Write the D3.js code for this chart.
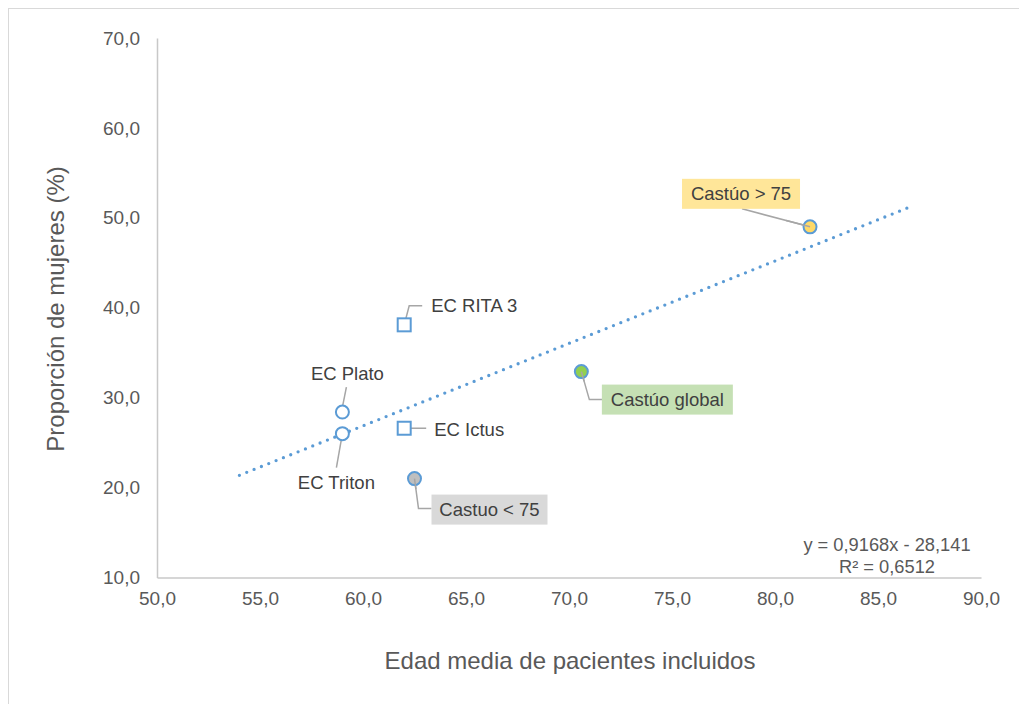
<!DOCTYPE html>
<html>
<head>
<meta charset="utf-8">
<script src="https://cdn.jsdelivr.net/npm/d3@7"></script>
<style>
  html, body { margin: 0; padding: 0; background: #fff; }
  svg { display: block; font-family: "Liberation Sans", Arial, sans-serif; }
</style>
</head>
<body>
<svg id="chart" width="1019" height="704"></svg>
<script>
// Studies: name, mean age of included patients, proportion of women (%)
const names   = ["Castúo > 75", "Castúo global", "Castuo < 75", "EC RITA 3", "EC Ictus", "EC Plato", "EC Triton"];
const ages    = [81.7, 70.6, 62.5, 62.0, 62.0, 59.0, 59.0];
const women   = [49.0, 32.9, 21.0, 38.1, 26.6, 28.4, 26.0];
const shapes  = ["circle", "circle", "circle", "square", "square", "circle", "circle"];
const fills   = ["#FFD966", "#92D050", "#BFBFBF", "#ffffff", "#ffffff", "#ffffff", "#ffffff"];
const labelBg = ["#FFE699", "#C5E0B4", "#D9D9D9", null, null, null, null];

// Linear trend line
const slope = 0.9168, intercept = -28.141, r2 = 0.6512;
const trendFrom = 54.0, trendTo = 86.7;

const xTicks = [50, 55, 60, 65, 70, 75, 80, 85, 90];
const yTicks = [10, 20, 30, 40, 50, 60, 70];

const fmt = v => v.toFixed(1).replace(".", ",");
const fmtN = (v, d) => v.toFixed(d).replace(".", ",");

const svg = d3.select("#chart");
const textColor = "#595959";

// chart frame
svg.append("rect")
  .attr("x", 8.5).attr("y", 8.5).attr("width", 1030).attr("height", 720)
  .attr("fill", "none").attr("stroke", "#D9D9D9").attr("stroke-width", 1);

const x = d3.scaleLinear().domain([50, 90]).range([157, 981]);
const y = d3.scaleLinear().domain([10, 70]).range([577.5, 38]);

// axes
const gx = svg.append("g").attr("transform", `translate(0,${y(10)})`)
  .call(d3.axisBottom(x).tickValues(xTicks).tickFormat(fmt).tickSize(0).tickPadding(14));
gx.select(".domain").attr("stroke", "#C8C8C8").attr("stroke-width", 1.5);
gx.selectAll("text").attr("fill", textColor).attr("font-size", 19)
  .attr("font-family", "Liberation Sans, Arial, sans-serif");

const gy = svg.append("g").attr("transform", `translate(${x(50)},0)`)
  .call(d3.axisLeft(y).tickValues(yTicks).tickFormat(fmt).tickSize(0).tickPadding(17));
gy.select(".domain").attr("stroke", "#C8C8C8").attr("stroke-width", 1.5);
gy.selectAll("text").attr("fill", textColor).attr("font-size", 19)
  .attr("font-family", "Liberation Sans, Arial, sans-serif");

// axis titles
svg.append("text")
  .attr("x", 570).attr("y", 669)
  .attr("text-anchor", "middle").attr("fill", textColor).attr("font-size", 24)
  .text("Edad media de pacientes incluidos");
svg.append("text")
  .attr("transform", `translate(64,309) rotate(-90)`)
  .attr("text-anchor", "middle").attr("fill", textColor).attr("font-size", 24)
  .text("Proporción de mujeres (%)");

// trend line
svg.append("line")
  .attr("x1", x(trendFrom)).attr("y1", y(slope * trendFrom + intercept))
  .attr("x2", x(trendTo)).attr("y2", y(slope * trendTo + intercept))
  .attr("stroke", "#5B9BD5").attr("stroke-width", 3.3)
  .attr("stroke-linecap", "round").attr("stroke-dasharray", "0 7.9");

// trend equation
const eq = svg.append("text").attr("text-anchor", "middle").attr("fill", textColor).attr("font-size", 18.3);
eq.append("tspan").attr("x", 887).attr("y", 551)
  .text(`y = ${fmtN(slope, 4)}x - ${fmtN(-intercept, 3)}`);
eq.append("tspan").attr("x", 887).attr("y", 573)
  .text(`R² = ${fmtN(r2, 4)}`);

// label layout (pixel offsets relative to each point): text centre, leader polyline
const layout = [
  { tx: -69, ty: -33, box: [118, 30], leader: [[0, 0], [-68, -18]] },
  { tx: 86,  ty: 28,  box: [131, 30], leader: [[0, 0], [8, 28], [21, 28]] },
  { tx: 75,  ty: 31,  box: [116, 30], leader: [[0, 0], [4, 30], [17, 30]] },
  { tx: 70,  ty: -19, box: null,      leader: [[0, 0], [5, -19], [18, -19]] },
  { tx: 65,  ty: 1,   box: null,      leader: [[0, 0], [22, 0]] },
  { tx: 5,   ty: -39, box: null,      leader: [[4, -25], [0, -5]] },
  { tx: -6,  ty: 49,  box: null,      leader: [[0, 0], [-6, 34]] }
];

const pts = names.map((n, i) => ({
  name: n, px: x(ages[i]), py: y(women[i]), shape: shapes[i],
  fill: fills[i], bg: labelBg[i], lay: layout[i]
}));

// leader lines
const lineGen = d3.line();
svg.append("g").selectAll("path").data(pts).join("path")
  .attr("d", d => lineGen(d.lay.leader.map(([dx, dy]) => [d.px + dx, d.py + dy])))
  .attr("fill", "none").attr("stroke", "#A6A6A6").attr("stroke-width", 1.5);

// label boxes
svg.append("g").selectAll("rect").data(pts.filter(d => d.lay.box)).join("rect")
  .attr("x", d => d.px + d.lay.tx - d.lay.box[0] / 2)
  .attr("y", d => d.py + d.lay.ty - d.lay.box[1] / 2)
  .attr("width", d => d.lay.box[0]).attr("height", d => d.lay.box[1])
  .attr("fill", d => d.bg);

// markers
const mk = svg.append("g");
mk.selectAll("circle").data(pts.filter(d => d.shape === "circle")).join("circle")
  .attr("cx", d => d.px).attr("cy", d => d.py).attr("r", 6.5)
  .attr("fill", d => d.fill).attr("stroke", "#5B9BD5").attr("stroke-width", 2);
mk.selectAll("rect").data(pts.filter(d => d.shape === "square")).join("rect")
  .attr("x", d => d.px - 6.5).attr("y", d => d.py - 6.5).attr("width", 13).attr("height", 13)
  .attr("fill", d => d.fill).attr("stroke", "#5B9BD5").attr("stroke-width", 2);

// leader starts drawn again on top of the filled markers
svg.append("g").selectAll("path").data(pts.filter(d => d.bg)).join("path")
  .attr("d", d => lineGen(d.lay.leader.slice(0, 2).map(([dx, dy], k) =>
    k === 0 ? [d.px + dx, d.py + dy] : [d.px + dx * 0.35, d.py + dy * 0.35])))
  .attr("fill", "none").attr("stroke", "#A6A6A6").attr("stroke-width", 1.5);

// label text
svg.append("g").selectAll("text").data(pts).join("text")
  .attr("x", d => d.px + d.lay.tx).attr("y", d => d.py + d.lay.ty)
  .attr("text-anchor", "middle").attr("dominant-baseline", "central")
  .attr("fill", "#404040").attr("font-size", 18.5)
  .text(d => d.name);
</script>
</body>
</html>
